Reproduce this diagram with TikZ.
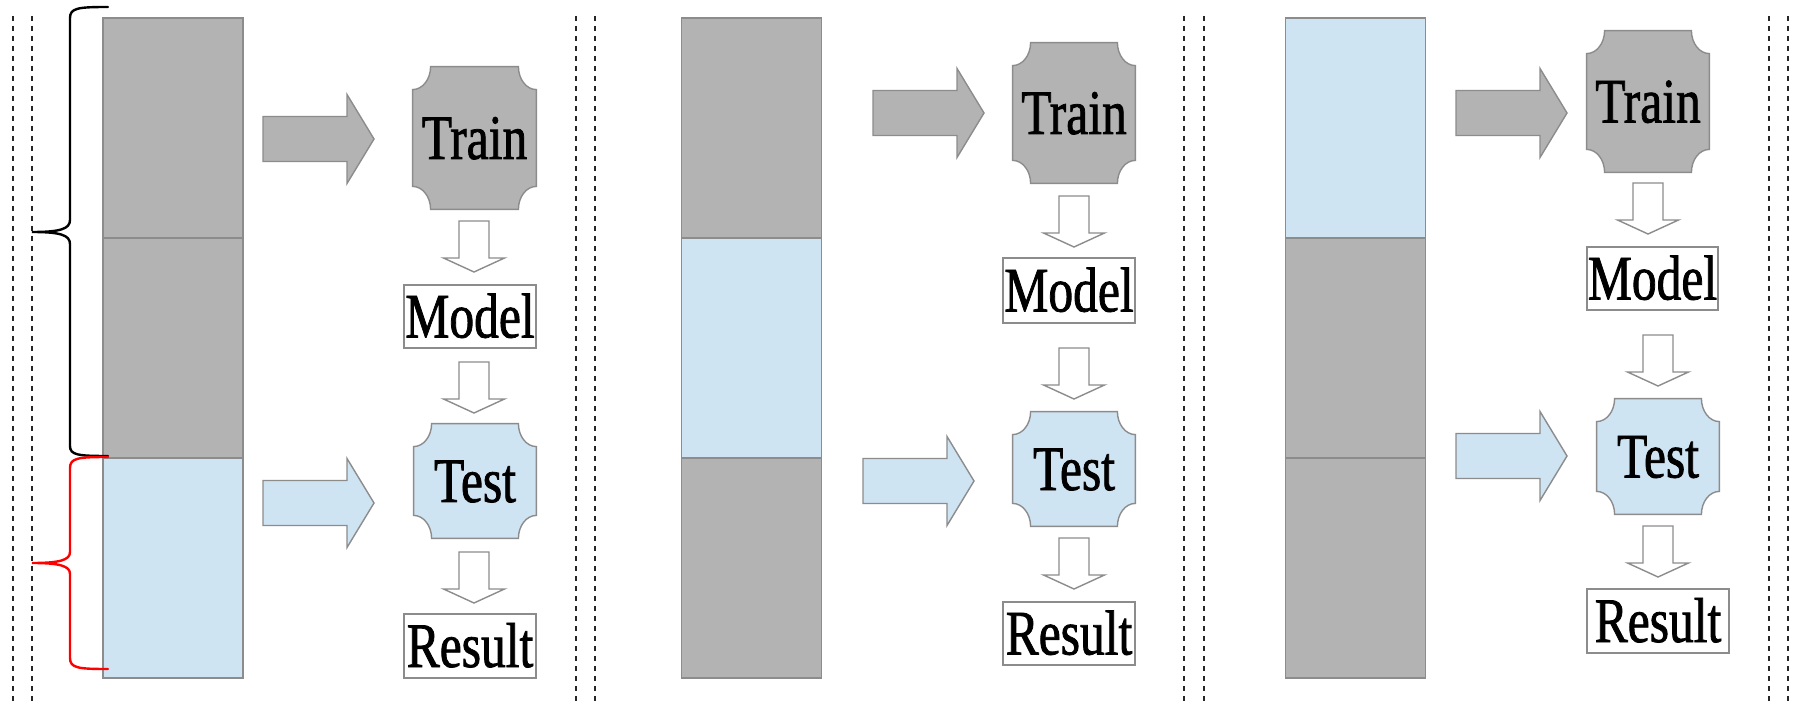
\documentclass[tikz,border=0pt]{standalone}
\usepackage{fontspec}
\newfontfamily\labelfont[FakeStretch=0.78,FakeBold=1.2]{Liberation Serif}
\usetikzlibrary{calc}
\pgfdeclarelayer{background}
\pgfsetlayers{background,main}
\definecolor{slab}{HTML}{B3B3B3}
\definecolor{pale}{HTML}{CFE4F3}
\definecolor{edge}{HTML}{8C8C8C}

% plaque outline (rectangle with concave corners) behind a named node
\newcommand\plaquebg[2]{%
  \begin{pgfonlayer}{background}
  \filldraw[draw=edge, line width=0.7pt, fill=#2]
    let \p1=(#1.north west), \p2=(#1.south east) in
    (\x1+9pt,\y1) -- (\x2-9pt,\y1)
    .. controls (\x2-9pt,\y1-6.3pt) and (\x2-5pt,\y1-11.5pt) .. (\x2,\y1-11.5pt)
    -- (\x2,\y2+11.5pt)
    .. controls (\x2-5pt,\y2+11.5pt) and (\x2-9pt,\y2+6.3pt) .. (\x2-9pt,\y2)
    -- (\x1+9pt,\y2)
    .. controls (\x1+9pt,\y2+6.3pt) and (\x1+5pt,\y2+11.5pt) .. (\x1,\y2+11.5pt)
    -- (\x1,\y1-11.5pt)
    .. controls (\x1+5pt,\y1-11.5pt) and (\x1+9pt,\y1-6.3pt) .. (\x1+9pt,\y1)
    -- cycle;
  \end{pgfonlayer}}

% block arrow pointing right: tail x, centre y, fill
\newcommand\hblock[3]{%
  \draw[blockline, fill=#3, shift={(#1,#2)}]
    (0,-22.5) -- (84,-22.5) -- (84,-44.5) -- (111,0) -- (84,44.5)
    -- (84,22.5) -- (0,22.5) -- cycle;}

% hollow block arrow pointing down: centre x, top y
\newcommand\vblock[2]{%
  \draw[blockline, fill=white, shift={(#1,#2)}]
    (-15,0) -- (15,0) -- (15,37) -- (30.5,37) -- (0,51)
    -- (-30.5,37) -- (-15,37) -- cycle;}

\begin{document}
\begin{tikzpicture}[x=0.5pt,y=-0.5pt,
  cell/.style={draw=edge, line width=0.7pt, minimum width=70pt,
    minimum height=110pt, inner sep=0pt},
  plaque/.style={inner sep=0pt, text height=21pt, text depth=0pt,
    font=\labelfont\fontsize{31.75pt}{38pt}\selectfont},
  textbox/.style={plaque, draw=edge, fill=white, line width=0.7pt},
  blockline/.style={draw=edge, line width=0.7pt, line join=miter},
  divider/.style={black!85, line width=0.65pt, dash pattern=on 2.5pt off 2.5pt},
  bracket/.style={line width=1.2pt, line cap=round}]

\useasboundingbox (0,0) rectangle (1793,705);
\begin{pgfonlayer}{background}
  \fill[white] (0,0) rectangle (1793,705);
\end{pgfonlayer}

% separators between the three folds
\foreach \x in {13,32,576,595,1184,1204,1769,1788}
  \draw[divider] (\x,16) -- (\x,705);

% data stacks
\node[cell, fill=slab] (a1) at (173,128) {};
\node[cell, fill=slab] (a2) at (173,348) {};
\node[cell, fill=pale] (a3) at (173,568) {};
\node[cell, fill=slab] (b1) at (751.5,128) {};
\node[cell, fill=pale] (b2) at (751.5,348) {};
\node[cell, fill=slab] (b3) at (751.5,568) {};
\node[cell, fill=pale] (c1) at (1355.5,128) {};
\node[cell, fill=slab] (c2) at (1355.5,348) {};
\node[cell, fill=slab] (c3) at (1355.5,568) {};

% braces on the first fold
\draw[bracket, black] (108,7) .. controls (78,7) and (70,8) .. (70,18)
  -- (70,220) .. controls (70,229) and (60,232) .. (32,232)
  .. controls (60,232) and (70,235) .. (70,244)
  -- (70,446) .. controls (70,455) and (78,456) .. (108,456);
\draw[bracket, red] (108,457) .. controls (78,457) and (70,458) .. (70,468)
  -- (70,552) .. controls (70,560) and (60,563) .. (32,563)
  .. controls (60,563) and (70,566) .. (70,574)
  -- (70,658) .. controls (70,668) and (78,669) .. (108,669);

% fold 1
\node[plaque, minimum width=61.5pt, minimum height=71pt] (train1) at (474.5,138) {Train};
\plaquebg{train1}{slab}
\node[textbox, minimum width=66pt, minimum height=31.5pt] (model1) at (470,316.5) {Model};
\node[plaque, minimum width=61pt, minimum height=57pt] (test1) at (475,481) {Test};
\plaquebg{test1}{pale}
\node[textbox, minimum width=66pt, minimum height=32pt] (result1) at (470,646) {Result};
\hblock{263}{139}{slab}
\hblock{263}{503}{pale}
\vblock{474}{221}
\vblock{474}{362}
\vblock{474}{552}

% fold 2
\node[plaque, minimum width=61pt, minimum height=70pt] (train2) at (1074,113) {Train};
\plaquebg{train2}{slab}
\node[textbox, minimum width=66pt, minimum height=32.5pt] (model2) at (1069,290.5) {Model};
\node[plaque, minimum width=61pt, minimum height=57pt] (test2) at (1074,469) {Test};
\plaquebg{test2}{pale}
\node[textbox, minimum width=66pt, minimum height=31.5pt] (result2) at (1069,633.5) {Result};
\hblock{873}{113}{slab}
\hblock{863}{481}{pale}
\vblock{1074}{196}
\vblock{1074}{348}
\vblock{1074}{538}

% fold 3
\node[plaque, minimum width=61pt, minimum height=70.5pt] (train3) at (1648,101.5) {Train};
\plaquebg{train3}{slab}
\node[textbox, minimum width=65.5pt, minimum height=31.5pt] (model3) at (1652.5,278.5) {Model};
\node[plaque, minimum width=61pt, minimum height=57.5pt] (test3) at (1658,456.5) {Test};
\plaquebg{test3}{pale}
\node[textbox, minimum width=71pt, minimum height=32pt] (result3) at (1658,621) {Result};
\hblock{1456}{113}{slab}
\hblock{1456}{456}{pale}
\vblock{1648}{183}
\vblock{1658}{335}
\vblock{1658}{526}

\end{tikzpicture}
\end{document}
